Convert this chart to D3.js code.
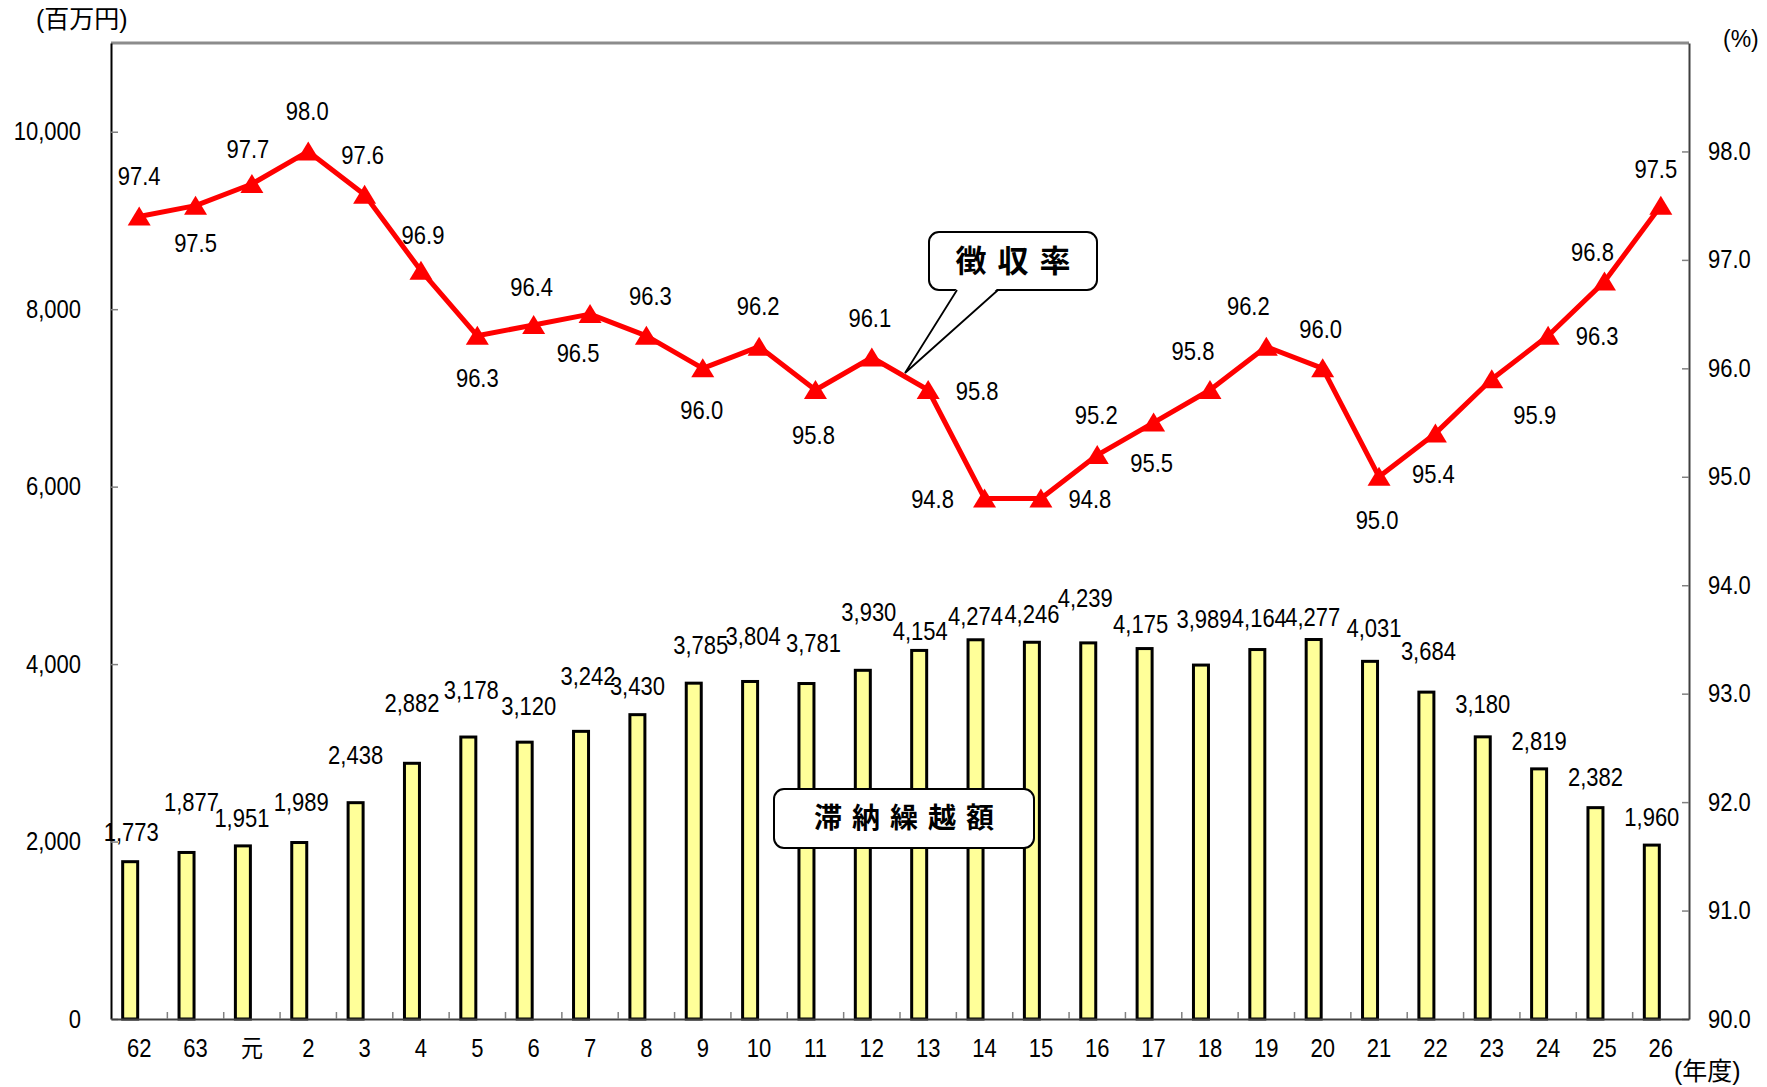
<!DOCTYPE html>
<html>
<head>
<meta charset="utf-8">
<script src="https://cdn.jsdelivr.net/npm/d3@7"></script>
<style>
  body { margin: 0; background: #fff; }
  text { font-family: "Liberation Sans", Arial, "Noto Sans CJK JP", sans-serif; fill: #000; }
  .jp { font-family: "Noto Sans CJK JP", sans-serif; }
</style>
</head>
<body>
<svg id="chart" width="1767" height="1087"></svg>
<script>
// fiscal years (昭和62 … 平成26)
const years = ["62","63","元","2","3","4","5","6","7","8","9","10","11","12","13",
               "14","15","16","17","18","19","20","21","22","23","24","25","26"];

// 滞納繰越額 (百万円)
const arrears = [1773,1877,1951,1989,2438,2882,3178,3120,3242,3430,3785,3804,3781,3930,
                 4154,4274,4246,4239,4175,3989,4164,4277,4031,3684,3180,2819,2382,1960];

// 徴収率 (%)
const rate = [97.4,97.5,97.7,98.0,97.6,96.9,96.3,96.4,96.5,96.3,96.0,96.2,95.8,96.1,
              95.8,94.8,94.8,95.2,95.5,95.8,96.2,96.0,95.0,95.4,95.9,96.3,96.8,97.5];

const leftTicks = [0,2000,4000,6000,8000,10000];
const rightTicks = [90,91,92,93,94,95,96,97,98];

// hand placed label offsets (px from the mark), as in the original sheet
const barLabelNudge = [[1,-29],[5,-50],[-1,-28],[2,-40],[0,-47],[0,-60],[3,-47],[4,-36],
  [7,-55],[0,-28],[7,-38],[3,-45],[7,-40],[6,-58],[1,-19],[0,-24],[0,-28],[-3,-45],
  [-4,-24],[3,-46],[2,-31],[-1,-22],[4,-33],[2,-41],[0,-33],[0,-28],[0,-30],[0,-28]];
const rateLabelNudge = [[0,-40],[0,38],[-4,-35],[-1,-40],[-2,-40],[2,-35],[0,42],[-2,-38],
  [-12,39],[4,-40],[-1,42],[-1,-40],[-2,45],[-2,-39],[49,1],[-52,1],[49,1],[-1,-40],
  [-2,41],[-17,-39],[-18,-40],[-2,-39],[-2,43],[-2,41],[43,36],[49,0],[-12,-29],[-5,-36]];

const L = 111, R = 1689, T = 43, B = 1019;
const FS = 25, SQ = 0.88; // number font is a bit condensed in the original
const svg = d3.select("#chart");

const x = d3.scaleBand().domain(years).range([L, R]).padding(0);
const yL = d3.scaleLinear().domain([0, 11000]).range([B, T]);
const yR = d3.scaleLinear().domain([90, 99]).range([B, T]);
const cx = d => x(d) + x.bandwidth() / 2;
const barW = 15, barShift = -9;

// move x/y into a transform so the glyphs can be narrowed
function squeeze(sel) {
  sel.each(function () {
    const t = d3.select(this);
    const px = +t.attr("x") || 0, py = +t.attr("y") || 0;
    t.attr("x", null).attr("y", null)
      .attr("transform", `translate(${px},${py}) scale(${SQ},1)`)
      .attr("font-size", FS).attr("font-family", null);
  });
}

// frame
svg.append("line").attr("x1", L).attr("x2", R).attr("y1", T).attr("y2", T)
  .attr("stroke", "#8c8c8c").attr("stroke-width", 3);

// left axis
const gL = svg.append("g").attr("transform", `translate(${L},0)`)
  .call(d3.axisLeft(yL).tickValues(leftTicks).tickSize(-7).tickSizeOuter(0)
    .tickPadding(30).tickFormat(d3.format(",")));
gL.select(".domain").attr("stroke", "#000").attr("stroke-width", 2);
gL.selectAll(".tick line").attr("stroke", "#808080").attr("stroke-width", 1.5);
gL.selectAll(".tick text").call(squeeze);

// right axis
const gR = svg.append("g").attr("transform", `translate(${R},0)`)
  .call(d3.axisRight(yR).tickValues(rightTicks).tickSize(-7).tickSizeOuter(0)
    .tickPadding(19).tickFormat(d3.format(".1f")));
gR.select(".domain").attr("stroke", "#404040").attr("stroke-width", 2);
gR.selectAll(".tick line").attr("stroke", "#808080").attr("stroke-width", 1.5);
gR.selectAll(".tick text").call(squeeze);

// bars
svg.append("g").selectAll("rect").data(arrears).join("rect")
  .attr("x", (d, i) => cx(years[i]) + barShift - barW / 2)
  .attr("y", d => yL(d))
  .attr("width", barW)
  .attr("height", d => yL(0) - yL(d))
  .attr("fill", "#FFFF99").attr("stroke", "#000").attr("stroke-width", 3);

// bottom axis
const gB = svg.append("g").attr("transform", `translate(0,${B})`)
  .call(d3.axisBottom(x).tickSize(0).tickPadding(20));
gB.select(".domain").attr("stroke", "#404040").attr("stroke-width", 2);
gB.selectAll(".tick text").call(squeeze);
svg.append("g").selectAll("line").data(years.slice(1)).join("line")
  .attr("x1", d => x(d)).attr("x2", d => x(d))
  .attr("y1", B).attr("y2", B - 7)
  .attr("stroke", "#808080").attr("stroke-width", 1.5);

// bar labels
svg.append("g").selectAll("text").data(arrears).join("text")
  .attr("x", (d, i) => cx(years[i]) + barShift + barLabelNudge[i][0])
  .attr("y", (d, i) => yL(d) + barLabelNudge[i][1])
  .attr("dy", "0.35em").attr("text-anchor", "middle")
  .text(d3.format(","))
  .call(squeeze);

// rate line
const line = d3.line().x((d, i) => cx(years[i])).y(d => yR(d));
svg.append("path").datum(rate).attr("d", line)
  .attr("fill", "none").attr("stroke", "#FF0000").attr("stroke-width", 5)
  .attr("stroke-linejoin", "round");
svg.append("g").selectAll("path").data(rate).join("path")
  .attr("transform", (d, i) => `translate(${cx(years[i])},${yR(d)})`)
  .attr("d", "M0,-10L11.5,9L-11.5,9Z").attr("fill", "#FF0000");

svg.append("g").selectAll("text").data(rate).join("text")
  .attr("x", (d, i) => cx(years[i]) + rateLabelNudge[i][0])
  .attr("y", (d, i) => yR(d) + rateLabelNudge[i][1])
  .attr("dy", "0.35em").attr("text-anchor", "middle")
  .text(d3.format(".1f"))
  .call(squeeze);

// callout for 徴収率
svg.append("rect").attr("x", 929).attr("y", 232).attr("width", 168).attr("height", 58)
  .attr("rx", 10).attr("fill", "#fff").attr("stroke", "#000").attr("stroke-width", 2);
svg.append("path").attr("d", "M957,288L998,288L905,373Z").attr("fill", "#fff");
svg.append("path").attr("d", "M957,290L905,373L998,290")
  .attr("fill", "none").attr("stroke", "#000").attr("stroke-width", 1.8);
svg.append("text").attr("class", "jp").attr("x", 1013 + 5.5).attr("y", 261)
  .attr("dy", "0.36em").attr("text-anchor", "middle").attr("font-size", 31)
  .attr("font-weight", "bold").attr("letter-spacing", 11).text("徴収率");

// label box for 滞納繰越額
svg.append("rect").attr("x", 774).attr("y", 789).attr("width", 260).attr("height", 59)
  .attr("rx", 10).attr("fill", "#fff").attr("stroke", "#000").attr("stroke-width", 2);
svg.append("text").attr("class", "jp").attr("x", 904 + 5).attr("y", 818)
  .attr("dy", "0.36em").attr("text-anchor", "middle").attr("font-size", 28)
  .attr("font-weight", "bold").attr("letter-spacing", 10).text("滞納繰越額");

// unit labels
svg.append("text").attr("x", 36).attr("y", 19).attr("dy", "0.36em")
  .attr("font-size", 25).text("(百万円)");
svg.append("text").attr("x", 1723).attr("y", 39).attr("dy", "0.36em")
  .attr("font-size", 23).text("(%)");
svg.append("text").attr("x", 1674).attr("y", 1071).attr("dy", "0.36em")
  .attr("font-size", 25).text("(年度)");
</script>
</body>
</html>
